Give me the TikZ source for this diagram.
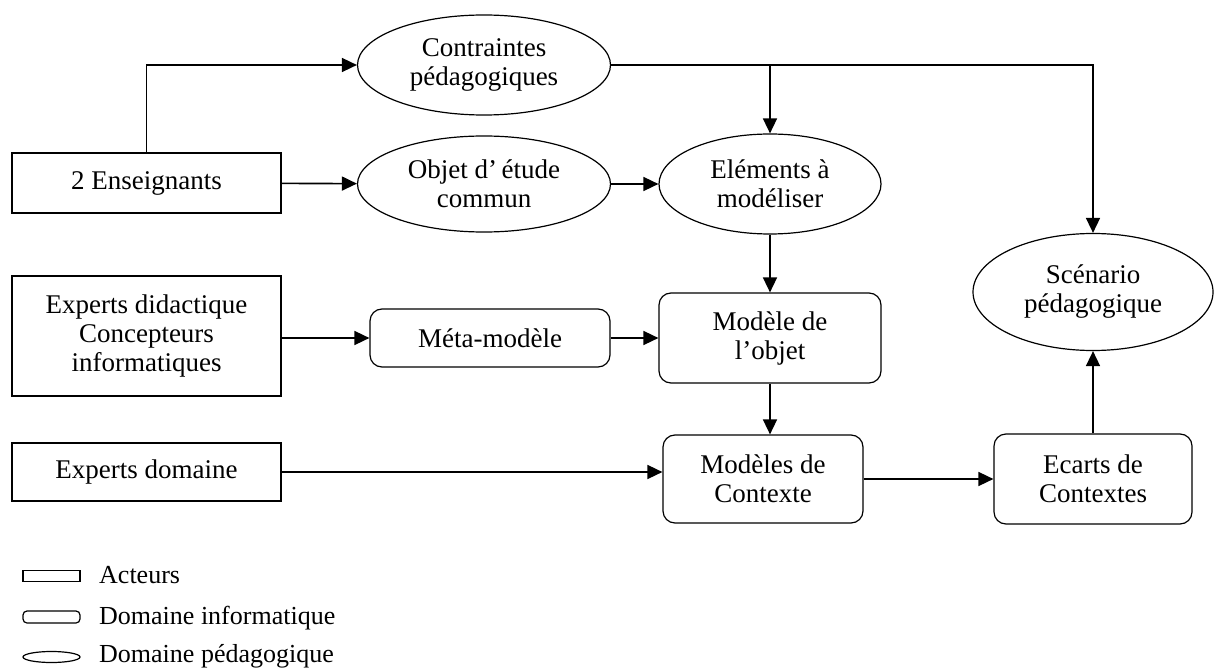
\documentclass[tikz,border=0pt]{standalone}
\usepackage{fontspec}
\setmainfont{Liberation Serif}
\usetikzlibrary{shapes.geometric,arrows.meta}
\begin{document}
\begin{tikzpicture}[x=1pt,y=-1pt,
  every node/.style={font=\fontsize{27}{29}\selectfont, align=center, inner sep=0pt},
  actor/.style={draw, line width=1.2pt, rectangle, minimum width=269pt},
  info/.style={draw, line width=1.2pt, rectangle, rounded corners=12pt},
  peda/.style={draw, line width=1.2pt, ellipse},
  arr/.style={line width=1.6pt, -{Triangle[length=15pt,width=14pt]}},
  legtext/.style={anchor=base west, font=\fontsize{26}{28}\selectfont}]
\useasboundingbox (0,0) rectangle (1215,668);

% actors
\node[actor, minimum height=60pt] (ens) at (146.5,183) {2 Enseignants};
\node[actor, minimum height=120pt] (expdid) at (146.5,336) {Experts didactique\\Concepteurs\\informatiques};
\node[actor, minimum height=58pt] (expdom) at (146.5,472) {Experts domaine};

% pedagogical domain
\node[peda, minimum width=253pt, minimum height=100pt] (contr) at (484,65) {Contraintes\\p\'edagogiques};
\node[peda, minimum width=253pt, minimum height=96pt] (objet) at (484,184) {Objet d’\,\'etude\\commun};
\node[peda, minimum width=222pt, minimum height=100pt] (elem) at (770,184) {El\'ements \`a\\mod\'eliser};
\node[peda, minimum width=240pt, minimum height=117pt] (scen) at (1093,292) {Sc\'enario\\p\'edagogique};

% computing domain
\node[info, minimum width=240pt, minimum height=58pt] (meta) at (490,338) {M\'eta-mod\`ele};
\node[info, minimum width=222pt, minimum height=90pt] (modobj) at (770,338) {Mod\`ele de\\l’objet};
\node[info, minimum width=200pt, minimum height=88pt] (modctx) at (763,479) {Mod\`eles de\\Contexte};
\node[info, minimum width=198pt, minimum height=90pt] (ecarts) at (1093,479) {Ecarts de\\Contextes};

% connectors
\draw[arr] (ens.north) |- (contr.west);
\draw[arr] (ens) -- (objet);
\draw[arr] (objet) -- (elem);
\coordinate (br) at (elem.north |- contr.east);
\draw[arr] (contr.east) -| (scen.north);
\draw[arr] (br) -- (elem.north);
\draw[arr] (elem) -- (modobj);
\draw[arr] (expdid.east |- meta.west) -- (meta.west);
\draw[arr] (meta) -- (modobj);
\draw[arr] (modobj.south) -- (modobj.south |- modctx.north);
\draw[arr] (expdom.east) -- (expdom.east -| modctx.west);
\draw[arr] (modctx) -- (ecarts);
\draw[arr] (ecarts) -- (scen);

% legend
\node[draw, line width=1.2pt, rectangle, minimum width=57pt, minimum height=11pt] (l1) at (51.5,576) {};
\node[legtext] (t1) at (99,583) {Acteurs};
\node[draw, line width=1.2pt, rectangle, rounded corners=4pt, minimum width=57pt, minimum height=12pt] (l2) at (51.5,617) {};
\node[legtext] (t2) at (99,624) {Domaine informatique};
\node[draw, line width=1.2pt, ellipse, minimum width=57pt, minimum height=11pt] (l3) at (51.5,657) {};
\node[legtext] (t3) at (99,662) {Domaine p\'edagogique};
\end{tikzpicture}
\end{document}
